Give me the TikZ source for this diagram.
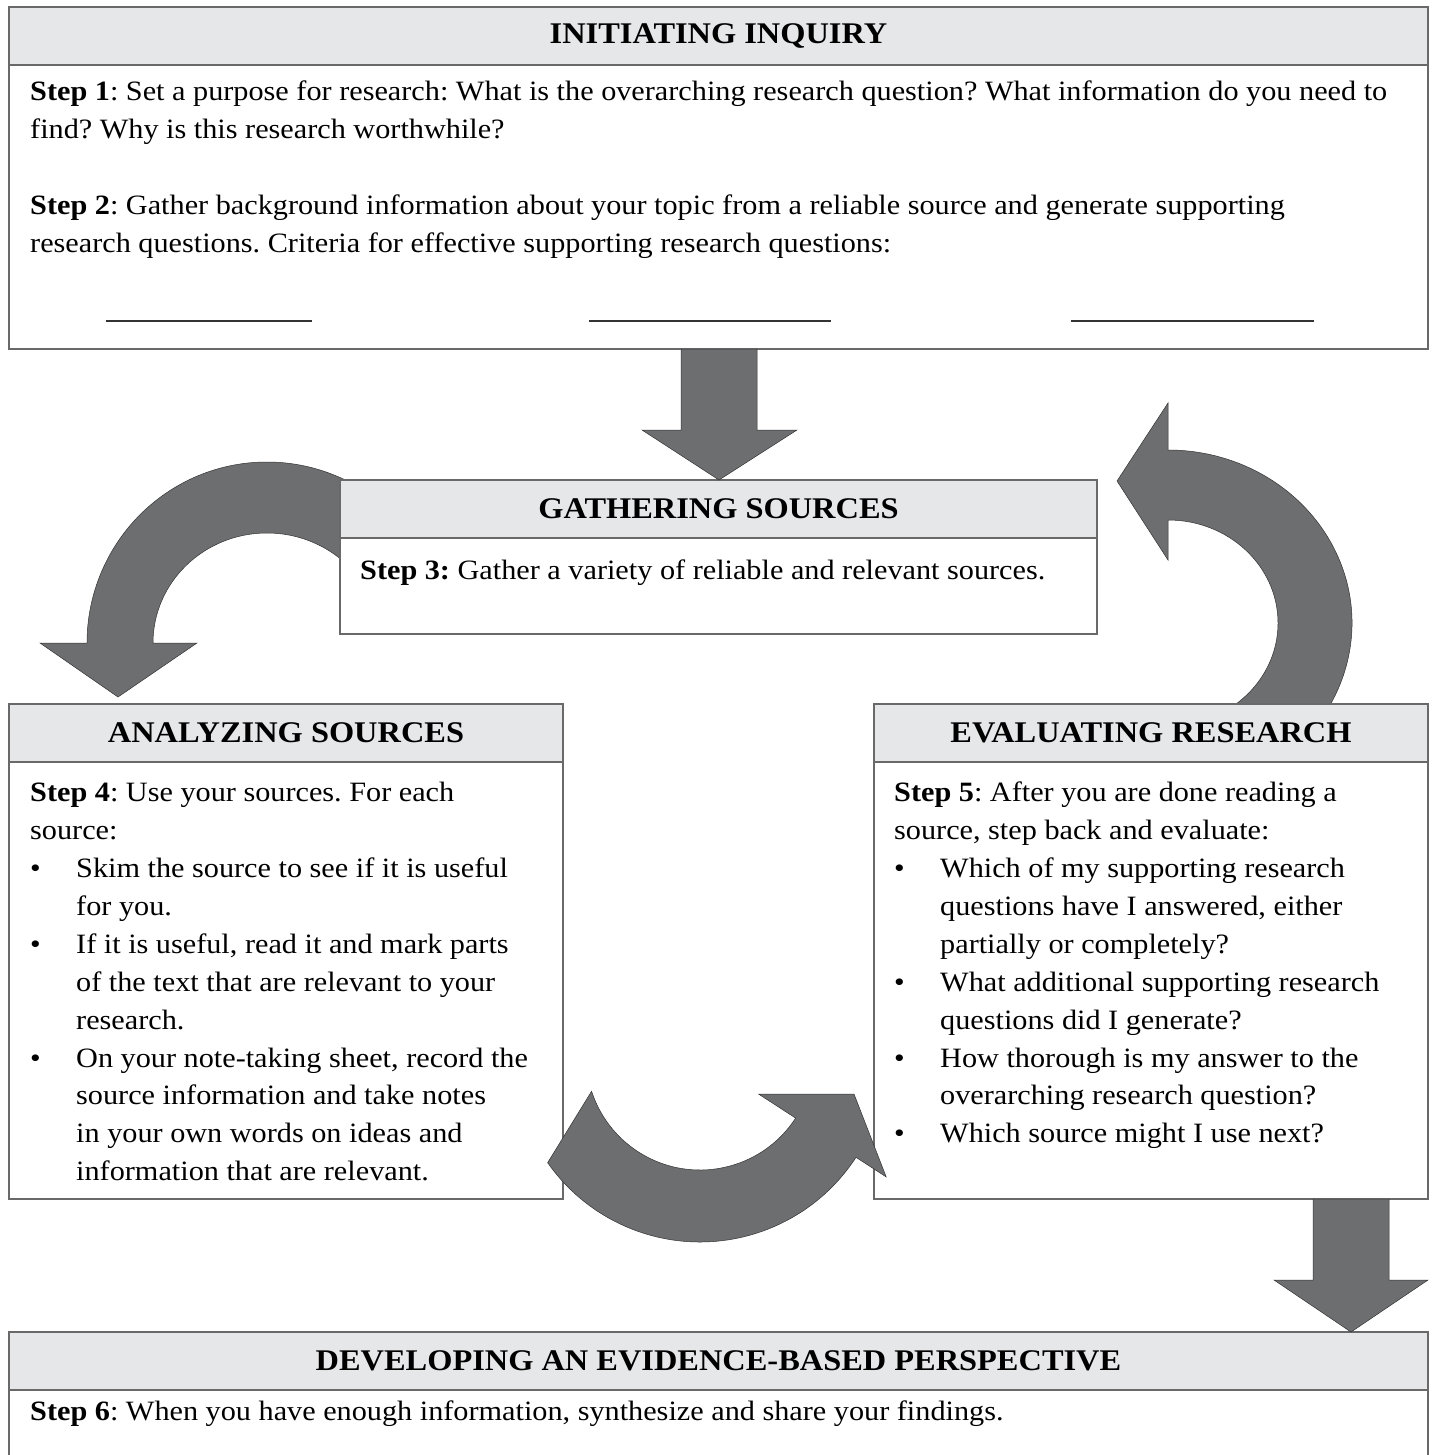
\documentclass[tikz,border=0pt]{standalone}
\usepackage{fontspec}
\setmainfont[FakeStretch=1.08]{Liberation Serif}
\definecolor{hdrfill}{RGB}{230,231,232}
\definecolor{agray}{RGB}{109,110,112}
\definecolor{bline}{RGB}{105,105,105}
\tikzset{
  boxframe/.style={draw=bline, line width=1.2pt, fill=white, inner sep=0pt, outer sep=0pt, anchor=north west},
  hdrframe/.style={draw=bline, line width=1.2pt, fill=hdrfill, inner sep=0pt, outer sep=0pt, anchor=north west, minimum height=58pt},
  hdrtext/.style={font=\fontsize{30}{36}\selectfont\bfseries, inner sep=0pt},
  bodytext/.style={font=\fontsize{28}{37.9}\selectfont, inner sep=0pt, anchor=north west, align=left},
  bigarrow/.style={fill=agray, draw=black!80, line width=0.5pt},
  uline/.style={draw=black!80, line width=1.6pt}
}
\newcommand{\bul}{\makebox[46pt][l]{\textbullet}}
\newcommand{\ind}{\hspace*{46pt}}
\frenchspacing
\begin{document}
\begin{tikzpicture}[x=1pt,y=-1pt]
\useasboundingbox (0,0) rectangle (1432,1455);
\fill[white] (0,0) rectangle (1432,1455);

% curved arrows behind boxes
\begin{scope}[shift={(267,643)}]
  \path[bigarrow] (-40:114 and 110) -- (-40:180 and 181)
     arc[start angle=-40, end angle=-180, x radius=180, y radius=181]
     -- (-227,0) -- (-149,54) -- (-70,0) -- (-114,0)
     arc[start angle=-180, end angle=-40, x radius=114, y radius=110] -- cycle;
\end{scope}
\begin{scope}[shift={(1168,623)}]
  \path[bigarrow] (60:110 and 103) -- (60:184 and 173)
     arc[start angle=60, end angle=-90, x radius=184, y radius=173]
     -- (0,-220) -- (-51,-142) -- (0,-63) -- (0,-103)
     arc[start angle=-90, end angle=60, x radius=110, y radius=103] -- cycle;
\end{scope}

% Box 1: Initiating inquiry
\node[boxframe, minimum width=1419pt, minimum height=342pt] (b1) at (9,7) {};
\node[hdrframe, minimum width=1419pt] (h1) at (9,7) {};
\node[hdrtext] (t1) at (h1.center) {INITIATING INQUIRY};
\node[bodytext] (s1) at (30,74) {\strut\textbf{Step 1}: Set a purpose for research: What is the overarching research question? What information do you need to\\
\strut find? Why is this research worthwhile?\\
\strut\\
\strut\textbf{Step 2}: Gather background information about your topic from a reliable source and generate supporting\\
\strut research questions. Criteria for effective supporting research questions:};
\coordinate (u1a) at (106,321); \coordinate (u1b) at (312,321);
\coordinate (u2a) at (589,321); \coordinate (u2b) at (831,321);
\coordinate (u3a) at (1071,321); \coordinate (u3b) at (1314,321);
\draw[uline] (u1a) -- (u1b);
\draw[uline] (u2a) -- (u2b);
\draw[uline] (u3a) -- (u3b);

% Box 2: Gathering sources
\node[boxframe, minimum width=757pt, minimum height=154pt] (b2) at (340,480) {};
\node[hdrframe, minimum width=757pt] (h2) at (340,480) {};
\node[hdrtext] (t2) at (h2.center) {GATHERING SOURCES};
\node[bodytext] (s3) at (360,553) {\strut\textbf{Step 3:} Gather a variety of reliable and relevant sources.};

% Box 3: Analyzing sources
\node[boxframe, minimum width=554pt, minimum height=495pt] (b3) at (9,704) {};
\node[hdrframe, minimum width=554pt] (h3) at (9,704) {};
\node[hdrtext] (t3) at (h3.center) {ANALYZING SOURCES};
\node[bodytext] (s4) at (30,775) {\strut\textbf{Step 4}: Use your sources. For each\\
\strut source:\\
\strut\bul Skim the source to see if it is useful\\
\strut\ind for you.\\
\strut\bul If it is useful, read it and mark parts\\
\strut\ind of the text that are relevant to your\\
\strut\ind research.\\
\strut\bul On your note-taking sheet, record the\\
\strut\ind source information and take notes\\
\strut\ind in your own words on ideas and\\
\strut\ind information that are relevant.};

% Box 4: Evaluating research
\node[boxframe, minimum width=554pt, minimum height=495pt] (b4) at (874,704) {};
\node[hdrframe, minimum width=554pt] (h4) at (874,704) {};
\node[hdrtext] (t4) at (h4.center) {EVALUATING RESEARCH};
\node[bodytext] (s5) at (894,775) {\strut\textbf{Step 5}: After you are done reading a\\
\strut source, step back and evaluate:\\
\strut\bul Which of my supporting research\\
\strut\ind questions have I answered, either\\
\strut\ind partially or completely?\\
\strut\bul What additional supporting research\\
\strut\ind questions did I generate?\\
\strut\bul How thorough is my answer to the\\
\strut\ind overarching research question?\\
\strut\bul Which source might I use next?};

% Box 5: Developing
\node[boxframe, minimum width=1419pt, minimum height=140pt] (b5) at (9,1332) {};
\node[hdrframe, minimum width=1419pt] (h5) at (9,1332) {};
\node[hdrtext] (t5) at (h5.center) {DEVELOPING AN EVIDENCE-BASED PERSPECTIVE};
\node[bodytext] (s6) at (30,1394) {\strut\textbf{Step 6}: When you have enough information, synthesize and share your findings.};

% straight arrows
\path[bigarrow] (681,349) -- (681,430) -- (642,430) -- (719,480) -- (797,430) -- (757,430) -- (757,349) -- cycle;
\path[bigarrow] (1313,1199) -- (1313,1280) -- (1274,1280) -- (1351,1332) -- (1428,1280) -- (1389,1280) -- (1389,1199) -- cycle;

% lower curved arrow (in front of boxes)
\begin{scope}[shift={(700,1056)}]
  \path[bigarrow] (162:114) -- (145:186)
     arc[start angle=145, end angle=33, radius=186]
     -- (33:222) -- (154,38) -- (33:70) -- (33:114)
     arc[start angle=33, end angle=162, radius=114] -- cycle;
\end{scope}
\end{tikzpicture}
\end{document}
